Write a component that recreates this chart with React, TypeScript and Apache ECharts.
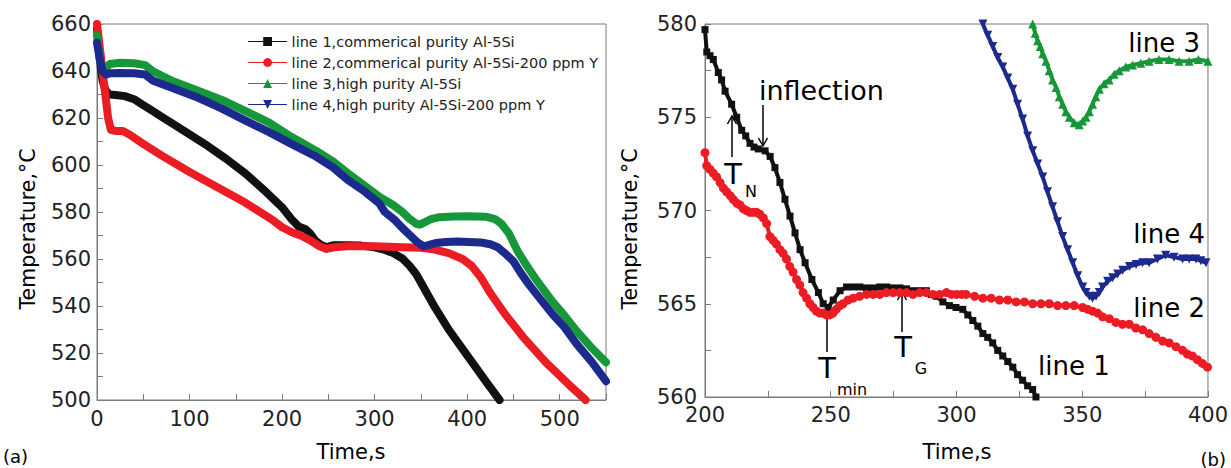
import React, { useEffect, useRef } from 'react';
import * as echarts from 'echarts';

const FONT = 'DejaVu Sans';

const seriesNames = [
  'line 1,commerical purity Al-5Si',
  'line 2,commerical purity Al-5Si-200 ppm Y',
  'line 3,high purity Al-5Si',
  'line 4,high purity Al-5Si-200 ppm Y',
];
const seriesColors = ['#111111', '#ec1c24', '#16973a', '#1b2a8c'];
const seriesSymbols = ['rect', 'circle', 'triangle', 'path://M0,0L10,0L5,9Z'];

// Panel (a): time (s), temperature (°C)
const line1A = [
  [0, 658], [2, 650], [4, 642], [6, 636], [9, 632], [13, 630], [20, 629.8], [30, 629.3], [40, 628],
  [50, 625.5], [60, 623], [70, 620.5], [80, 618], [100, 613], [120, 608], [140, 602.5], [160, 596.5],
  [180, 589.5], [200, 582], [210, 577], [218, 573.8], [225, 572.8], [230, 571], [236, 567.8], [242, 566],
  [248, 565], [255, 565.8], [270, 565.9], [285, 565.7], [300, 565], [310, 564], [320, 562.5], [330, 560.2],
  [338, 557], [345, 553.5], [355, 546.5], [365, 539.5], [380, 530], [400, 519], [420, 508], [435, 500],
];
const line2A = [
  [0, 660], [3, 650], [6, 640], [9, 630], [12, 620], [15, 615], [20, 614.5], [28, 614.5], [35, 613],
  [50, 609], [70, 604], [100, 597], [130, 590.5], [160, 584], [190, 576.5], [200, 573.5], [210, 571.5],
  [220, 570], [230, 568], [240, 565.5], [248, 564.3], [256, 565], [270, 565.4], [300, 565.4], [330, 565],
  [350, 564.8], [365, 564], [380, 562.5], [395, 560], [405, 557], [415, 552], [425, 545.5], [440, 537],
  [460, 527], [485, 516], [510, 506.5], [528, 500],
];
const line3A = [
  [0, 655], [3, 645], [6, 641], [10, 641.5], [14, 643], [25, 643.5], [40, 643.3], [52, 642.5], [60, 640],
  [70, 638], [83, 635.5], [110, 631.5], [135, 627.7], [160, 623], [186, 618], [210, 612], [237, 606],
  [255, 601.5], [271, 596.5], [290, 591], [305, 586.5], [320, 583], [330, 580], [338, 577], [345, 575],
  [349, 574.6], [355, 575.8], [361, 577], [370, 577.8], [385, 578.1], [400, 578.2], [420, 578], [430, 577],
  [437, 575], [445, 571], [455, 563], [463, 558], [475, 551], [492, 542], [505, 536], [518, 529.5],
  [535, 522], [550, 516],
];
const line4A = [
  [0, 652], [3, 645], [6, 640], [10, 638.5], [14, 639], [25, 639.2], [40, 639], [52, 638.5], [60, 636],
  [70, 634.5], [83, 632.6], [110, 628.5], [135, 624], [160, 619], [186, 614], [210, 609], [237, 603.5],
  [255, 599], [271, 593.6], [290, 588.5], [305, 583.7], [311, 580], [322, 576.5], [330, 573.2],
  [338, 570.2], [346, 567.2], [353, 565.4], [358, 565.9], [366, 566.8], [377, 567.2], [390, 567.4],
  [400, 567.2], [415, 567], [425, 566.3], [433, 565], [442, 562], [450, 559], [458, 554], [467, 549],
  [480, 542.5], [492, 536.6], [505, 531], [518, 524], [535, 516], [550, 508],
];

// Panel (b): time (s), temperature (°C)
const line1B = [
  [200, 579.7], [200.7, 578.5], [202, 578.3], [203.3, 578.1], [205.3, 577.4], [206.6, 577], [208, 576.4],
  [210.6, 575.7], [212.6, 575], [214.6, 574.3], [216.2, 574], [217.9, 573.6], [219.5, 573.4],
  [221.2, 573.3], [223.9, 573.2], [225.9, 572.9], [227.8, 572.3], [229.8, 571.5], [231.8, 570.6],
  [233.8, 569.7], [235.8, 568.8], [237.8, 567.9], [239.8, 567.2], [242.5, 566.3], [245.1, 565.6],
  [247, 565], [249, 564.8], [251, 565.2], [253.7, 565.7], [256.3, 565.9], [259, 565.9], [261.6, 565.9],
  [264.2, 565.85], [266.9, 565.85], [269.5, 565.9], [272.2, 565.9], [274.8, 565.85], [277.5, 565.85],
  [280.1, 565.8], [282.8, 565.7], [285.4, 565.7], [288, 565.7], [290, 565.5], [292, 565.4],
  [294.6, 565.1], [297.2, 564.9], [299.8, 564.8], [302.5, 564.7], [304.5, 564.4], [306.5, 564.1],
  [308.5, 563.8], [310.5, 563.4], [312.4, 563.2], [314.4, 562.9], [316.4, 562.5], [318.4, 562.2],
  [320.4, 561.9], [322.4, 561.6], [324.3, 561.2], [326.3, 560.9], [328.3, 560.6], [330.3, 560.4],
  [331.6, 560],
];
const line2B = [
  [200, 573.1], [200.7, 572.4], [202, 572.2], [203.3, 572], [204.6, 571.8], [206, 571.5], [207.3, 571.2],
  [208.6, 571], [210, 570.8], [211.2, 570.6], [212.6, 570.4], [213.9, 570.3], [215.2, 570.1],
  [216.5, 570], [217.8, 569.9], [219.2, 569.9], [220.5, 569.9], [221.8, 569.8], [223.2, 569.6],
  [224.5, 569.3], [225.8, 568.6], [227.1, 568.4], [228.4, 568.2], [229.8, 567.9], [231.1, 567.7],
  [232.4, 567.4], [233.7, 567], [235, 566.7], [236.4, 566.3], [237.7, 566], [239, 565.6], [240.4, 565.3],
  [241.7, 565], [243, 564.8], [244.3, 564.6], [245.6, 564.5], [247, 564.5], [248.3, 564.4],
  [249.6, 564.4], [250.9, 564.5], [252.2, 564.7], [253.6, 564.9], [254.9, 565], [256.9, 565.2],
  [258.9, 565.3], [261.5, 565.4], [264.2, 565.5], [266.8, 565.5], [269.5, 565.5], [272.1, 565.6],
  [274.8, 565.6], [277.4, 565.6], [280.1, 565.6], [282.7, 565.5], [285.4, 565.6], [288, 565.6],
  [290.7, 565.5], [293.3, 565.5], [296, 565.6], [298, 565.5], [300, 565.5], [302, 565.5], [303.8, 565.5],
  [307.2, 565.4], [310.5, 565.3], [313.8, 565.3], [317.1, 565.2], [320.4, 565.2], [323.7, 565.1],
  [327, 565.1], [330.3, 565], [333.6, 565], [336.9, 565], [340.2, 564.9], [343.5, 564.9], [346.8, 564.9],
  [350.2, 564.8], [352.2, 564.7], [354.1, 564.6], [356.1, 564.5], [358.1, 564.3], [360.8, 564.2],
  [363.4, 564], [366, 563.9], [368.7, 563.9], [371.3, 563.7], [374, 563.6], [376.6, 563.4],
  [379.3, 563.2], [382, 563], [384.6, 562.9], [387.3, 562.7], [389.9, 562.5], [391.8, 562.3],
  [393.8, 562.2], [395.8, 562], [397.8, 561.8], [399.8, 561.6],
];
const line3B = [
  [330.3, 580], [331.3, 579.5], [332.3, 579.1], [333.3, 578.8], [334.3, 578.4], [335.6, 578],
  [336.9, 577.5], [338.2, 577], [339.6, 576.6], [340.9, 576.1], [342.2, 575.7], [343.5, 575.3],
  [344.9, 575], [346.8, 574.7], [348.8, 574.6], [350.2, 574.8], [351.5, 575], [352.8, 575.3],
  [354.1, 575.7], [355.4, 576.1], [356.8, 576.5], [358.7, 576.8], [360.7, 577], [362.7, 577.3],
  [364.7, 577.5], [367.3, 577.7], [370, 577.8], [373.3, 577.9], [376.6, 578], [380.5, 578.1],
  [384.5, 578.1], [388.5, 578], [392.5, 578], [396.2, 578.1], [400, 578],
];
const line4B = [
  [310.5, 580], [312.4, 579.4], [314.4, 578.8], [316.4, 578.2], [318.4, 577.7], [320.4, 577.1],
  [322.4, 576.5], [324.3, 575.7], [326.3, 574.9], [328.3, 574], [330.3, 573.2], [332.3, 572.5],
  [334.3, 571.8], [336.2, 571], [338.2, 570.2], [340.2, 569.4], [342.2, 568.6], [344.2, 567.9],
  [346.2, 567.2], [348.2, 566.5], [350.2, 565.9], [351.5, 565.6], [352.8, 565.4], [354.1, 565.3],
  [355.5, 565.4], [356.8, 565.6], [358.1, 565.9], [360.1, 566.2], [362.1, 566.4], [364.1, 566.6],
  [366.1, 566.8], [368.8, 567], [371.4, 567.1], [374, 567.2], [376.6, 567.2], [379.9, 567.4],
  [383.2, 567.6], [386.5, 567.5], [389.9, 567.4], [392.5, 567.4], [395.2, 567.4], [397.2, 567.3],
  [399.2, 567.2],
];

const panelA = [line1A, line2A, line3A, line4A];
const panelB = [line1B, line2B, line3B, line4B];
const symbolSizesB = [7, 9, 9, 9];

const AXIS_COLOR = '#7a7a7a';
const TEXT_COLOR = '#222222';

function makeAxis(gridIndex: number, min: number, max: number, interval: number, labelStep: number, margin: number) {
  return {
    type: 'value',
    gridIndex,
    min,
    max,
    interval,
    axisLine: { show: true, lineStyle: { color: AXIS_COLOR, width: 1 } },
    axisTick: { show: true, inside: true, length: 6, lineStyle: { color: AXIS_COLOR, width: 1 } },
    splitLine: { show: false },
    axisLabel: {
      margin,
      color: TEXT_COLOR,
      fontFamily: FONT,
      fontSize: 21,
      formatter: (v: number) => (Math.abs(v / labelStep - Math.round(v / labelStep)) < 1e-6 ? String(v) : ''),
    },
  };
}

function arrow(x: number, yTail: number, yHead: number) {
  const d = yHead < yTail ? 8 : -8;
  return [
    { type: 'line', shape: { x1: x, y1: yTail, x2: x, y2: yHead }, style: { stroke: '#000', lineWidth: 1.5 } },
    {
      type: 'polyline',
      shape: { points: [[x - 4.5, yHead + d], [x, yHead], [x + 4.5, yHead + d]] },
      style: { stroke: '#000', lineWidth: 1.5, fill: 'none' },
    },
  ];
}

function txt(text: string, x: number, y: number, size: number, align = 'center', extra: any = {}) {
  return {
    type: 'text',
    x,
    y,
    ...extra,
    style: { text, fill: '#000', fontFamily: FONT, fontSize: size, align, verticalAlign: 'middle' },
  };
}

export default function App() {
  const ref = useRef<HTMLDivElement>(null);
  useEffect(() => {
    const chart = echarts.init(ref.current!, null, { renderer: 'svg' });
    const seriesA = panelA.map((data, i) => ({
      name: seriesNames[i],
      type: 'line',
      xAxisIndex: 0,
      yAxisIndex: 0,
      data,
      showSymbol: false,
      symbol: seriesSymbols[i],
      color: seriesColors[i],
      lineStyle: { width: 8, color: seriesColors[i], join: 'round', cap: 'round' },
      itemStyle: { color: seriesColors[i] },
      clip: true,
      silent: true,
    }));
    const seriesB = panelB.map((data, i) => ({
      name: 'b-' + seriesNames[i],
      type: 'line',
      xAxisIndex: 1,
      yAxisIndex: 1,
      data,
      showSymbol: true,
      symbol: seriesSymbols[i],
      symbolSize: symbolSizesB[i],
      color: seriesColors[i],
      lineStyle: { width: 4, color: seriesColors[i] },
      itemStyle: { color: seriesColors[i] },
      clip: true,
      silent: true,
    }));

    const graphic: any[] = [
      txt('Temperature,°C', 28, 229, 20.5, 'center', { rotation: Math.PI / 2 }),
      txt('Temperature,°C', 630, 229, 20.5, 'center', { rotation: Math.PI / 2 }),
      txt('Time,s', 351, 452, 21),
      txt('Time,s', 957, 452, 21),
      txt('(a)', 3, 456, 18, 'left'),
      txt('(b)', 1226, 459, 18, 'right'),
      txt('inflection', 759, 90, 27, 'left'),
      ...arrow(763, 105, 146),
      ...arrow(732, 157, 116),
      txt('T', 733, 174, 29),
      txt('N', 751, 191, 16),
      ...arrow(827, 352, 307),
      txt('T', 827, 368, 29),
      txt('min', 852, 389, 16),
      ...arrow(902, 332, 292),
      txt('T', 903, 347, 29),
      txt('G', 921, 368, 16),
      txt('line 3', 1200, 43, 26, 'right'),
      txt('line 4', 1205, 234, 26, 'right'),
      txt('line 2', 1205, 308, 26, 'right'),
      txt('line 1', 1038, 366, 26, 'left'),
    ];

    chart.setOption({
      animation: false,
      backgroundColor: '#ffffff',
      grid: [
        { left: 97, right: 625, top: 24, bottom: 68, show: true, borderColor: AXIS_COLOR, borderWidth: 1 },
        { left: 705, right: 22, top: 24, bottom: 71, show: true, borderColor: AXIS_COLOR, borderWidth: 1 },
      ],
      xAxis: [makeAxis(0, 0, 550, 50, 100, 8), makeAxis(1, 200, 400, 25, 50, 7)],
      yAxis: [makeAxis(0, 500, 660, 10, 20, 6), makeAxis(1, 560, 580, 2.5, 5, 8)],
      legend: {
        data: seriesNames,
        orient: 'vertical',
        left: 243,
        top: 29,
        itemWidth: 38,
        itemHeight: 11,
        itemGap: 6,
        selectedMode: false,
        lineStyle: { width: 1.2 },
        textStyle: { fontFamily: FONT, fontSize: 14.5, color: TEXT_COLOR },
      },
      series: [...seriesA, ...seriesB],
      graphic,
    });
    return () => chart.dispose();
  }, []);
  return (
    <div
      ref={ref}
      style={{ position: 'absolute', left: 0, top: 0, width: 1231, height: 468, background: '#fff' }}
    />
  );
}
